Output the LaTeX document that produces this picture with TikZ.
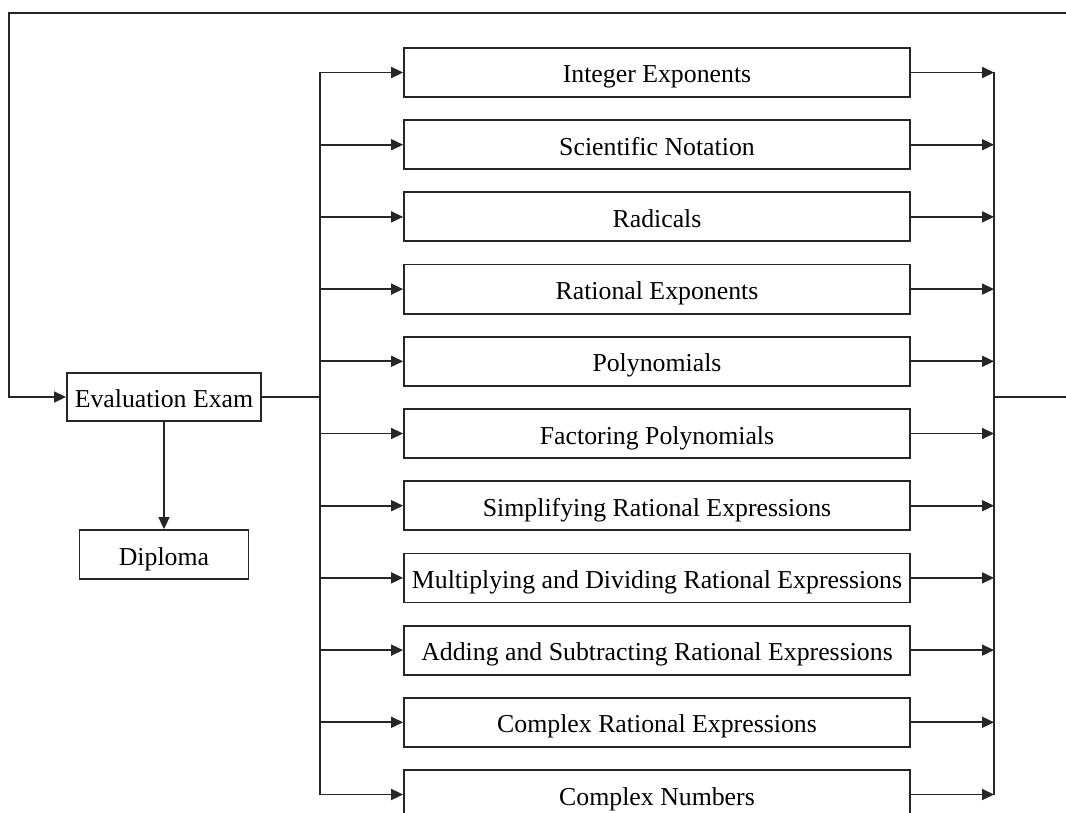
\documentclass[tikz,border=0pt]{standalone}
\usepackage{fontspec}
\setmainfont{Liberation Serif}
\usetikzlibrary{arrows.meta}
\begin{document}
\begin{tikzpicture}[x=1pt,y=-1pt,
  line width=1.6pt,
  box/.style={draw=black!85, line width=1.8pt, inner sep=0pt, text height=21pt, text depth=0pt, font=\fontsize{25.8}{30}\selectfont},
  topic/.style={box, minimum width=506pt, minimum height=49pt},
  conn/.style={draw=black!85, line width=1.7pt},
  arr/.style={conn, -{Triangle[length=12pt,width=11pt]}}
]
\clip (0,0) rectangle (1066,813);
\useasboundingbox (0,0) rectangle (1066,813);
\fill[white] (0,0) rectangle (1066,813);

\node[box, minimum width=194pt, minimum height=48pt] (eval) at (164,397) {Evaluation Exam};
\node[box, minimum width=169pt, minimum height=49pt] (dip) at (164,554.5) {Diploma};

\foreach \i/\t in {0/Integer Exponents, 1/Scientific Notation, 2/Radicals, 3/Rational Exponents, 4/Polynomials, 5/Factoring Polynomials, 6/Simplifying Rational Expressions, 7/Multiplying and Dividing Rational Expressions, 8/Adding and Subtracting Rational Expressions, 9/Complex Rational Expressions, 10/Complex Numbers}{
  \node[topic] (t\i) at (657,{72.5+72.2*\i}) {\t};
  \coordinate (l\i) at (320,{72.5+72.2*\i});
  \coordinate (r\i) at (994,{72.5+72.2*\i});
  \draw[arr] (l\i) -- (t\i.west);
  \draw[arr] (t\i.east) -- (r\i);
}

\coordinate (lb) at (320,397);
\coordinate (rb) at (994,397);
\coordinate (rexit) at (1070,397);
\coordinate (ltop) at (9,13);
\coordinate (rtop) at (1070,13);
\coordinate (lmid) at (9,397);

\draw[conn] (l0) -- (l10);
\draw[conn] (r0) -- (r10);
\draw[conn] (eval.east) -- (lb);
\draw[conn] (rb) -- (rexit);
\draw[arr] (rtop) -- (ltop) -- (lmid) -- (eval.west);
\draw[arr] (eval.south) -- (dip.north);
\end{tikzpicture}
\end{document}
